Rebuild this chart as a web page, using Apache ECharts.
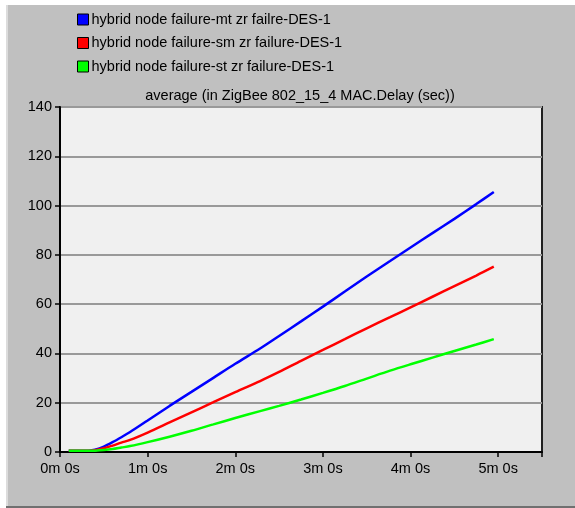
<!DOCTYPE html>
<html>
<head>
<meta charset="utf-8">
<script src="https://cdn.jsdelivr.net/npm/echarts@6/dist/echarts.min.js"></script>
<style>
  html, body { margin: 0; padding: 0; background: #ffffff; }
  #panel { position: absolute; left: 6px; top: 5px; width: 569px; height: 501px;
           background: #c0c0c0; border-bottom: 2px solid #707070; }
  #panel::before { content: ""; position: absolute; left: 0; top: 0; bottom: 0; width: 2px; background: #dcdcdc; }
  #chart { position: absolute; left: 0; top: 0; width: 575px; height: 508px; }
</style>
</head>
<body>
<div id="panel"></div>
<div id="chart"></div>
<script>
// Simulation time stamps (seconds)
const times = [6, 12, 18, 21, 24, 30, 36, 42, 48, 60, 75, 90, 105, 120, 137, 150, 165, 180, 195, 210, 226, 240, 255, 270, 285, 297];

// Average MAC delay (sec) per scenario
const delayMt = [0.5, 0.5, 0.5, 0.6, 0.9, 2.2, 4.0, 6.0, 8.1, 12.8, 18.7, 24.4, 30.1, 35.8, 42.0, 47.1, 53.0, 59.0, 65.1, 71.2, 77.5, 83.0, 88.8, 94.6, 100.6, 105.5];
const delaySm = [0.5, 0.5, 0.5, 0.5, 0.7, 1.5, 2.6, 3.8, 4.9, 7.9, 12.0, 16.1, 20.2, 24.3, 28.8, 32.5, 37.0, 41.4, 45.8, 50.2, 54.7, 58.7, 63.0, 67.3, 71.6, 75.2];
const delaySt = [0.5, 0.5, 0.5, 0.5, 0.55, 0.8, 1.2, 1.8, 2.4, 4.0, 6.2, 8.6, 11.2, 13.8, 16.6, 18.7, 21.3, 24.0, 26.8, 29.8, 33.0, 35.6, 38.3, 41.0, 43.6, 45.8];

const seriesNames = [
  'hybrid node failure-mt zr failre-DES-1',
  'hybrid node failure-sm zr failure-DES-1',
  'hybrid node failure-st zr failure-DES-1'
];
const seriesColors = ['#0000ff', '#ff0000', '#00ff00'];
const chartTitle = 'average (in ZigBee 802_15_4 MAC.Delay (sec))';

const FONT = '"Liberation Sans", Arial, sans-serif';
const FS = 14.5;

const pairs = vals => times.map((t, i) => [t, vals[i]]);

const chart = echarts.init(document.getElementById('chart'), null, { renderer: 'canvas' });
chart.setOption({
  backgroundColor: 'transparent',
  animation: false,
  title: {
    text: chartTitle,
    left: 300, textAlign: 'center', top: 88, padding: 0,
    textStyle: { fontFamily: FONT, fontSize: FS, fontWeight: 'normal', color: '#000' }
  },
  legend: {
    orient: 'vertical', left: 77, top: 12, padding: 0,
    itemWidth: 11, itemHeight: 11, itemGap: 8.5,
    icon: 'rect',
    itemStyle: { borderColor: '#000', borderWidth: 1 },
    textStyle: { fontFamily: FONT, fontSize: FS, color: '#000', padding: [0, 0, 0, -2] },
    data: seriesNames
  },
  grid: {
    left: 60, right: 33, top: 107, bottom: 56,
    show: true, backgroundColor: '#f0f0f0', borderColor: '#202020', borderWidth: 2
  },
  xAxis: {
    type: 'value', min: 0, max: 330, interval: 60,
    axisLine: { show: true, lineStyle: { color: '#000', width: 2 } },
    axisTick: { show: true, length: 5, lineStyle: { color: '#000', width: 1.5 } },
    splitLine: { show: false },
    axisLabel: {
      fontFamily: FONT, fontSize: FS, color: '#000', margin: 9,
      formatter: v => (v <= 300 ? (v / 60) + 'm 0s' : '')
    }
  },
  yAxis: {
    type: 'value', min: 0, max: 140, interval: 20,
    axisLine: { show: true, lineStyle: { color: '#000', width: 2 } },
    axisTick: { show: true, length: 5, lineStyle: { color: '#000', width: 1.5 } },
    splitLine: { show: true, lineStyle: { color: '#999999', width: 2 } },
    axisLabel: { fontFamily: FONT, fontSize: FS, color: '#000', margin: 8 }
  },
  series: [delayMt, delaySm, delaySt].map((vals, i) => ({
    name: seriesNames[i],
    type: 'line',
    data: pairs(vals),
    smooth: 0.3,
    showSymbol: false,
    color: seriesColors[i],
    lineStyle: { width: 2.5, color: seriesColors[i] },
    itemStyle: { color: seriesColors[i] }
  }))
});
</script>
</body>
</html>
